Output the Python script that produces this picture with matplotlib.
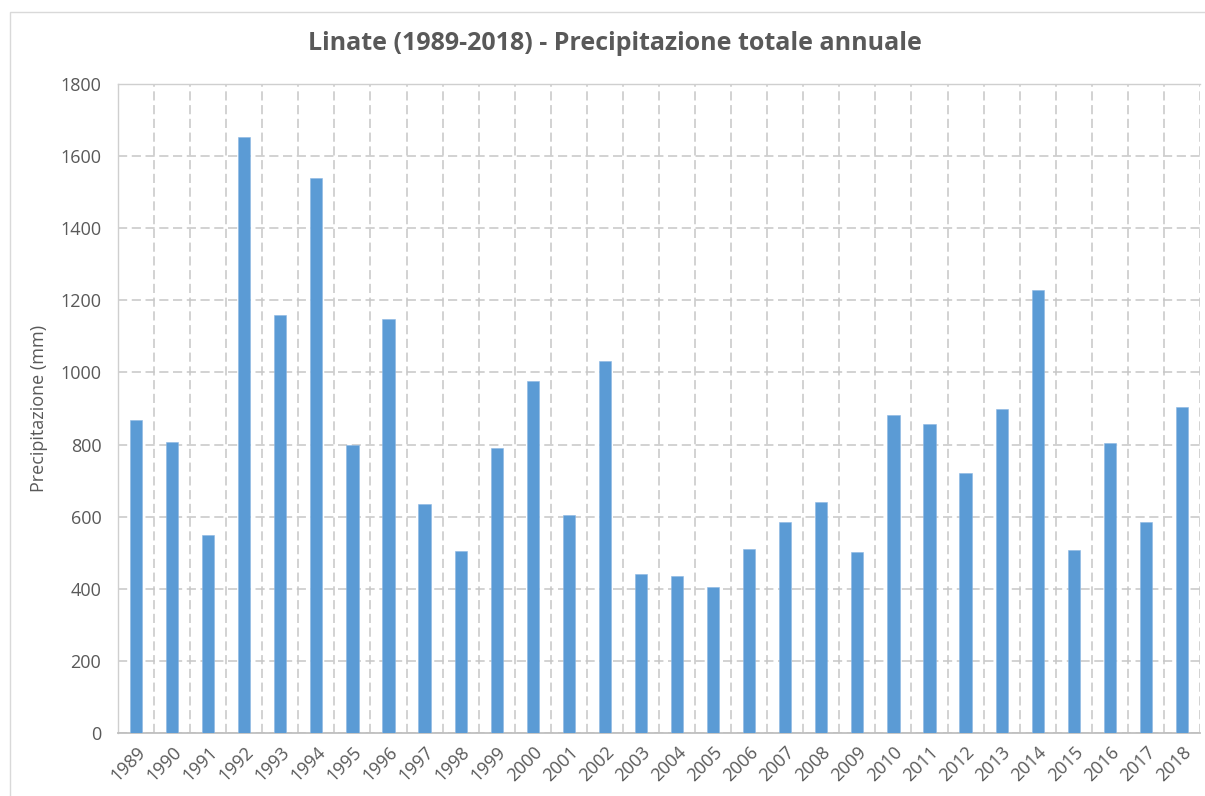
import matplotlib
matplotlib.use("Agg")
import matplotlib.pyplot as plt
from matplotlib.patches import Rectangle

years = [str(y) for y in range(1989, 2019)]
precip = [867, 808, 548, 1652, 1159, 1540, 799, 1148, 634, 505,
          791, 975, 604, 1032, 441, 436, 406, 509, 586, 641,
          501, 881, 857, 720, 898, 1230, 507, 803, 586, 903]
yticks = list(range(0, 1801, 200))

title = "Linate (1989-2018) - Precipitazione totale annuale"
ylabel = "Precipitazione (mm)"

plt.rcParams['font.family'] = ['Open Sans', 'DejaVu Sans']
text_col = '#595959'
grid_col = '#C6C6C6'

fig = plt.figure(figsize=(12.05, 7.96), dpi=100)
fig.patches.append(Rectangle((10/1205, -0.1), 1.2, 1 - 12/796 + 0.1,
                             transform=fig.transFigure, fill=False,
                             edgecolor='#D9D9D9', linewidth=1.0))

ax = fig.add_axes([118/1205, 1 - 733/796, (1200 - 118)/1205, (733 - 84)/796])
x = list(range(len(years)))
ax.bar(x, precip, width=0.34, color='#5B9BD5', edgecolor='#8DB8E3',
       linewidth=0.4, zorder=3)

ax.set_xlim(-0.5, len(years) - 0.5)
ax.set_ylim(0, 1800)
ax.set_yticks(yticks)
ax.set_xticks(x)
ax.set_xticklabels(years, rotation=45, ha='right', rotation_mode='anchor')

ax.set_xticks([i - 0.5 for i in range(len(years) + 1)], minor=True)
ax.grid(which='minor', axis='x', color=grid_col, linestyle=(0, (6, 3)),
        linewidth=1.1, zorder=0)
ax.grid(which='major', axis='y', color=grid_col, linestyle=(0, (6, 3)),
        linewidth=1.1, zorder=0)
ax.grid(which='major', axis='x', visible=False)

ax.tick_params(axis='both', which='both', length=0, colors=text_col,
               labelsize=13)
ax.tick_params(axis='y', pad=12)
ax.tick_params(axis='x', pad=7)

for s in ['left', 'top', 'right']:
    ax.spines[s].set_color('#CFCFCF')
    ax.spines[s].set_linewidth(1.0)
ax.spines['bottom'].set_color('#BFBFBF')
ax.spines['bottom'].set_linewidth(1.3)
ax.spines['right'].set_visible(False)

ax.set_ylabel(ylabel, fontsize=13, color=text_col)
ax.yaxis.set_label_coords((48 - 118) / 1082, 0.5)
fig.text(0.5106, 1 - 43/796, title, ha='center', va='center',
         fontsize=18, fontweight='bold', color=text_col)

fig.savefig('out.png', dpi=100)
